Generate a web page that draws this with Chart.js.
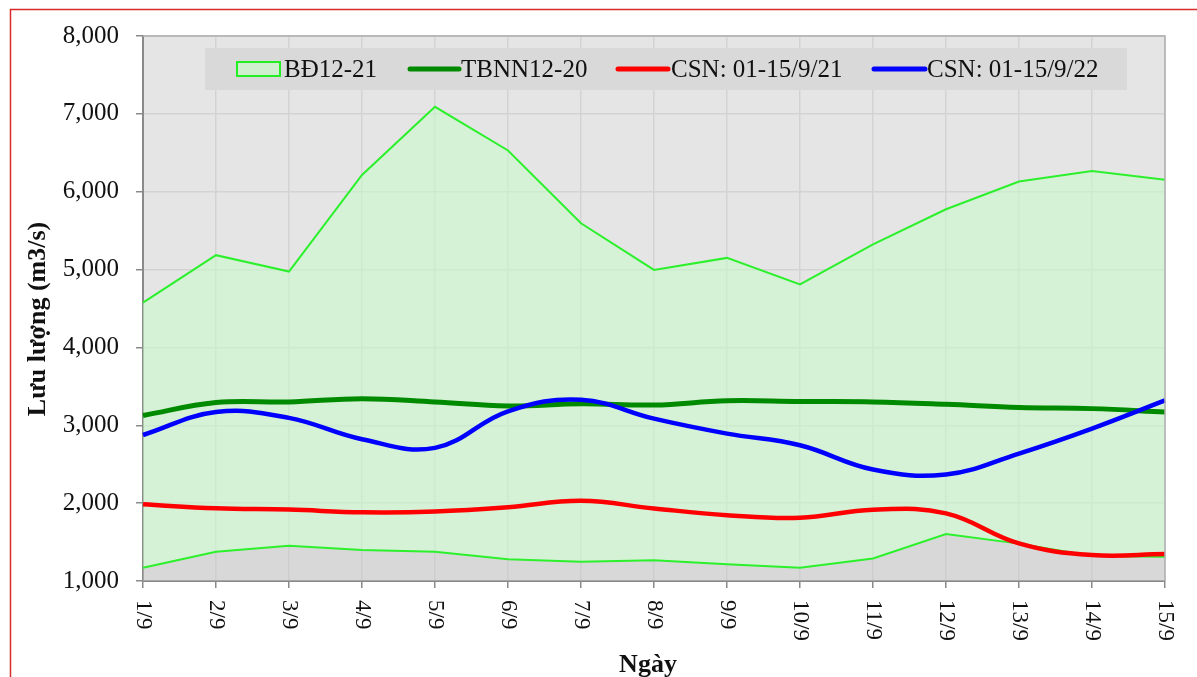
<!DOCTYPE html>
<html>
<head>
<meta charset="utf-8">
<script src="https://cdn.jsdelivr.net/npm/chart.js@4.4.1/dist/chart.umd.min.js"></script>
<style>
	html, body { margin: 0; padding: 0; background: #fff; overflow: hidden; }
	#wrap { width: 1197px; height: 677px; }
</style>
</head>
<body>
<div id="wrap"><canvas id="flow-chart" width="1197" height="677"></canvas></div>
<script>
// ── Data ────────────────────────────────────────────────────────────────────

const days = ['1/9', '2/9', '3/9', '4/9', '5/9', '6/9', '7/9', '8/9', '9/9', '10/9', '11/9', '12/9', '13/9', '14/9', '15/9']
const yTicks = [1000, 2000, 3000, 4000, 5000, 6000, 7000, 8000]

// BĐ12-21: upper and lower edge of the band
const bandMax = [4575, 5185, 4975, 6215, 7090, 6530, 5595, 4995, 5150, 4810, 5325, 5775, 6130, 6265, 6155]
const bandMin = [1170, 1376, 1453, 1397, 1376, 1278, 1247, 1265, 1214, 1171, 1290, 1603, 1480, 1320, 1310]
// TBNN12-20
const tbnn = [3125, 3292, 3300, 3342, 3300, 3248, 3277, 3260, 3315, 3305, 3300, 3269, 3227, 3214, 3170]
// CSN: 01-15/9/21
const csn21 = [1985, 1933, 1917, 1883, 1892, 1946, 2030, 1932, 1846, 1812, 1915, 1868, 1483, 1333, 1346]
// CSN: 01-15/9/22
const csn22 = [2875, 3170, 3095, 2821, 2710, 3180, 3328, 3085, 2893, 2743, 2432, 2368, 2637, 2958, 3320]

const SERIF = "'Liberation Serif', 'Times New Roman', serif"

// ── Decoration: frame, plot background, legend, rotated labels, titles ────

const decor = {
	id: 'decor',
	beforeDraw(chart) {
		const { ctx, chartArea: a } = chart
		ctx.save()
		ctx.fillStyle = '#ffffff'
		ctx.fillRect(0, 0, chart.width, chart.height)
		ctx.strokeStyle = '#d92b2b'
		ctx.lineWidth = 1.5
		ctx.strokeRect(10.5, 9.5, 1400, 1000)
		ctx.fillStyle = '#e5e5e5'
		ctx.fillRect(a.left, a.top, a.right - a.left, a.bottom - a.top)
		ctx.restore()
	},
	afterDatasetsDraw(chart) {
		const { ctx, chartArea: a } = chart
		const xs = chart.scales.x
		ctx.save()

		// top/right plot border
		ctx.strokeStyle = '#b0b0b0'
		ctx.lineWidth = 1.5
		ctx.beginPath()
		ctx.moveTo(a.left, a.top)
		ctx.lineTo(a.right, a.top)
		ctx.lineTo(a.right, a.bottom)
		ctx.stroke()

		// legend
		ctx.fillStyle = '#d9d9d9'
		ctx.fillRect(205, 48, 922, 42)
		const ly = 69
		ctx.font = `25px ${SERIF}`
		ctx.textBaseline = 'middle'
		ctx.textAlign = 'left'
		ctx.fillStyle = 'rgba(202,254,202,0.6)'
		ctx.fillRect(237, 62, 43, 14)
		ctx.strokeStyle = '#22ee22'
		ctx.lineWidth = 2
		ctx.strokeRect(237, 62, 43, 14)
		const lineItems = [
			[410, 459, '#008a00', 5],
			[618, 668, '#ff0000', 5],
			[874, 925, '#0000ff', 5],
		]
		lineItems.forEach(([x0, x1, c, w]) => {
			ctx.strokeStyle = c
			ctx.lineWidth = w
			ctx.lineCap = 'round'
			ctx.beginPath()
			ctx.moveTo(x0, ly)
			ctx.lineTo(x1, ly)
			ctx.stroke()
		})
		const names = chart.data.datasets.filter(d => d.label).map(d => d.label)
		const textX = [284, 461, 671, 927]
		ctx.fillStyle = '#111'
		names.forEach((n, i) => ctx.fillText(n, textX[i], ly + 1))

		// x labels, rotated clockwise
		ctx.font = `23px ${SERIF}`
		xs.ticks.forEach((t, i) => {
			const x = xs.getPixelForTick(i)
			ctx.save()
			ctx.translate(x, a.bottom + 19)
			ctx.rotate(Math.PI / 2)
			ctx.fillText(days[i], 0, 0)
			ctx.restore()
		})

		// axis titles
		ctx.font = `bold 26px ${SERIF}`
		ctx.textAlign = 'center'
		ctx.textBaseline = 'alphabetic'
		ctx.fillText('Ngày', 648, 672)
		ctx.textBaseline = 'middle'
		ctx.save()
		ctx.translate(38, 319)
		ctx.rotate(-Math.PI / 2)
		ctx.fillText('Lưu lượng (m3/s)', 0, 0)
		ctx.restore()

		ctx.restore()
	},
}

// ── Chart ───────────────────────────────────────────────────────────────────

const gridOpts = { color: '#d3d3d3', lineWidth: 1.5, tickLength: 7, tickColor: '#8a8a8a', tickWidth: 1.5 }

new Chart(document.getElementById('flow-chart'), {
	type: 'line',
	data: {
		labels: days,
		datasets: [
			{
				label: 'BĐ12-21',
				data: bandMax,
				borderColor: '#2cf02c',
				borderWidth: 2,
				backgroundColor: 'rgba(202,254,202,0.55)',
				fill: '+1',
				tension: 0,
				pointRadius: 0,
				order: 6,
			},
			{
				data: bandMin,
				borderColor: '#2cf02c',
				borderWidth: 2,
				backgroundColor: 'rgba(200,200,200,0.45)',
				fill: 'start',
				tension: 0,
				pointRadius: 0,
				order: 5,
			},
			{
				label: 'TBNN12-20',
				data: tbnn,
				borderColor: '#008a00',
				borderWidth: 5,
				fill: false,
				tension: 0.4,
				pointRadius: 0,
				order: 4,
			},
			{
				label: 'CSN: 01-15/9/21',
				data: csn21,
				borderColor: '#ff0000',
				borderWidth: 4.5,
				fill: false,
				tension: 0.4,
				pointRadius: 0,
				order: 3,
			},
			{
				label: 'CSN: 01-15/9/22',
				data: csn22,
				borderColor: '#0000ff',
				borderWidth: 4.5,
				fill: false,
				tension: 0.4,
				pointRadius: 0,
				order: 2,
			},
		],
	},
	options: {
		responsive: false,
		animation: false,
		devicePixelRatio: 1,
		layout: { padding: { left: 0, top: 36, right: 32, bottom: 0 } },
		scales: {
			x: {
				offset: false,
				grid: gridOpts,
				border: { color: '#8a8a8a', width: 2 },
				ticks: { color: 'transparent', autoSkip: false, maxRotation: 90, minRotation: 90, font: { family: SERIF, size: 23 } },
				afterFit: s => { s.height = 96 },
			},
			y: {
				min: 1000,
				max: 8000,
				grid: gridOpts,
				border: { color: '#8a8a8a', width: 2 },
				afterBuildTicks: s => { s.ticks = yTicks.map(v => ({ value: v })) },
				ticks: {
					color: '#111',
					padding: 17,
					font: { family: SERIF, size: 25 },
					callback: v => v.toLocaleString('en-US'),
				},
				afterFit: s => { s.width = 143 },
			},
		},
		plugins: {
			legend: { display: false },
			tooltip: { enabled: false },
		},
	},
	plugins: [decor],
})
</script>
</body>
</html>
